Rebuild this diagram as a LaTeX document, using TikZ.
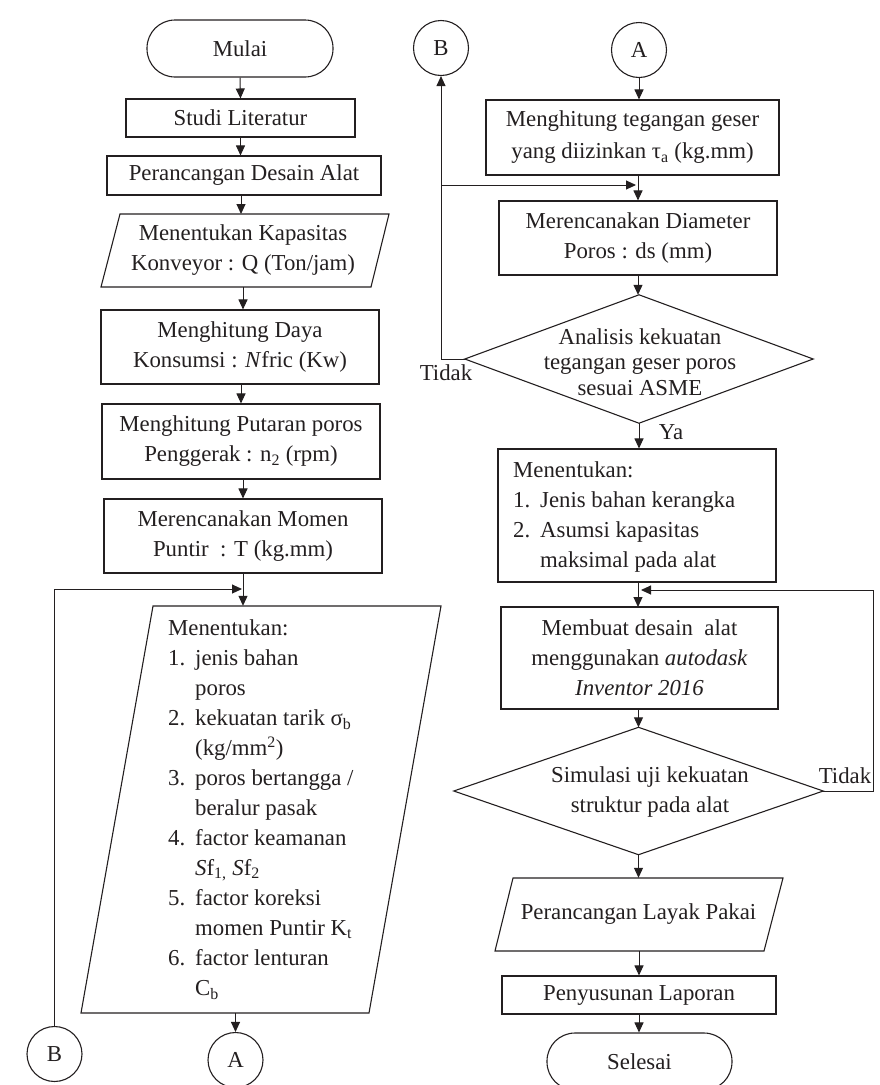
\documentclass[tikz,border=0pt]{standalone}
\usepackage{fontspec}
\setmainfont{Liberation Serif}
\usetikzlibrary{arrows.meta}
\definecolor{ink}{RGB}{35,31,32}
\begin{document}
\begin{tikzpicture}[x=1pt,y=-1pt,
  font=\fontsize{22.8}{30}\selectfont,
  box/.style={draw=ink, line width=1.1pt, inner sep=0pt, align=center, text=ink},
  term/.style={box, rounded corners=28pt},
  ghost/.style={inner sep=0pt, align=center, text=ink},
  conn/.style={circle, draw=ink, line width=1.1pt, inner sep=0pt, minimum size=55pt, text=ink},
  shp/.style={draw=ink, line width=1.1pt},
  arr/.style={draw=ink, line width=1pt, -{Triangle[length=10pt,width=9pt]}},
  lbl/.style={inner sep=0pt, text=ink, anchor=base}]
\useasboundingbox (0,0) rectangle (880,1085);

% ---------- left column ----------
\node[term, minimum width=186pt, minimum height=57pt] (mulai) at (240,48.5) {Mulai};
\node[box, minimum width=229pt, minimum height=38pt] (studi) at (240.5,118) {Studi Literatur};
\node[box, minimum width=274pt, minimum height=39pt] (desain) at (244,175.5) {Perancangan Desain Alat};
\draw[shp] (120,214) -- (389,214) -- (371,287) -- (101,287) -- cycle;
\node[ghost, minimum width=250pt, minimum height=73pt] (kap) at (243,250.5) {Menentukan Kapasitas\\Konveyor : Q (Ton/jam)};
\node[box, minimum width=278pt, minimum height=74pt] (daya) at (240,347) {Menghitung Daya\\Konsumsi : \textit{N}fric (Kw)};
\node[box, minimum width=278pt, minimum height=75pt] (putaran) at (241,441.5) {Menghitung Putaran poros\\Penggerak : n\textsubscript{2} (rpm)};
\node[box, minimum width=278pt, minimum height=74pt] (momen) at (243,536) {Merencanakan Momen\\Puntir\ \ : T (kg.mm)};
\draw[shp] (153,606) -- (441,606) -- (369,1013) -- (81,1013) -- cycle;
\node[ghost, minimum width=288pt, minimum height=407pt] (big) at (261,809.5) {};
\node[ghost, align=left, anchor=north west] (bigT) at (168,619.4) {Menentukan:\\
\makebox[27pt][l]{1.}jenis bahan\\
\hspace*{27pt}poros\\
\makebox[27pt][l]{2.}kekuatan tarik σ\textsubscript{b}\\
\hspace*{27pt}(kg/mm\textsuperscript{2})\\
\makebox[27pt][l]{3.}poros bertangga /\\
\hspace*{27pt}beralur pasak\\
\makebox[27pt][l]{4.}factor keamanan\\
\hspace*{27pt}\textit{S}f\textsubscript{1,} \textit{S}f\textsubscript{2}\\
\makebox[27pt][l]{5.}factor koreksi\\
\hspace*{27pt}momen Puntir K\textsubscript{t}\\
\makebox[27pt][l]{6.}factor lenturan\\
\hspace*{27pt}C\textsubscript{b}};
\node[conn] (B1) at (54.5,1054) {B};
\node[conn] (A1) at (235.5,1060) {A};
\coordinate (j1) at (242,589);

\draw[arr] (mulai.south) -- (studi.north);
\draw[arr] (studi.south) -- (studi.south |- desain.north);
\draw[arr] (241,195) -- (241,214);
\draw[arr] (kap.south) -- (kap.south |- daya.north);
\draw[arr] (daya.south -| putaran.north) -- (putaran.north);
\draw[arr] (momen.north |- putaran.south) -- (momen.north);
\draw[arr] (momen.south) -- (momen.south |- big.north);
\draw[arr] (B1.north) |- (j1);
\draw[arr] (A1.north |- big.south) -- (A1.north);

% ---------- right column ----------
\node[conn] (B2) at (441,48) {B};
\node[conn] (A2) at (639,50) {A};
\node[box, minimum width=293pt, minimum height=75pt, font=\fontsize{22.8}{32}\selectfont] (geser) at (632.5,137.5) {Menghitung tegangan geser\\yang diizinkan τ\textsubscript{a} (kg.mm)};
\node[box, minimum width=278pt, minimum height=74pt] (diam) at (638,238) {Merencanakan Diameter\\Poros : ds (mm)};
\node[ghost, minimum width=348pt, minimum height=128pt] (ana) at (639,359) {};
\draw[shp] (ana.north) -- (ana.east) -- (ana.south) -- (ana.west) -- cycle;
\node[ghost, font=\fontsize{22.8}{25.7}\selectfont] (anaT) at (640,362) {Analisis kekuatan\\tegangan geser poros\\sesuai ASME};
\node[lbl] (tidak1) at (446,380) {Tidak};
\node[lbl] (ya) at (671,439) {Ya};
\node[box, minimum width=278pt, minimum height=133pt] (men2) at (637,515.5) {};
\node[ghost, align=left, anchor=north west] (men2T) at (513,461.4) {Menentukan:\\
\makebox[27pt][l]{1.}Jenis bahan kerangka\\
\makebox[27pt][l]{2.}Asumsi kapasitas\\
\hspace*{27pt}maksimal pada alat};
\node[box, minimum width=277pt, minimum height=102pt] (membuat) at (639.5,658) {Membuat desain\ \ alat\\menggunakan \textit{autodask}\\\textit{Inventor 2016}};
\node[ghost, minimum width=369pt, minimum height=127pt] (sim) at (638.5,791) {};
\draw[shp] (sim.north) -- (sim.east) -- (sim.south) -- (sim.west) -- cycle;
\node[ghost] (simT) at (650,792) {Simulasi uji kekuatan\\struktur pada alat};
\node[lbl] (tidak2) at (845,783) {Tidak};
\draw[shp] (513,878) -- (783,878) -- (764,951) -- (495,951) -- cycle;
\node[ghost, minimum width=270pt, minimum height=73pt] (layak) at (638.5,914.5) {Perancangan Layak Pakai};
\node[box, minimum width=274pt, minimum height=38pt] (laporan) at (639,995) {Penyusunan Laporan};
\node[term, minimum width=185pt, minimum height=57pt] (selesai) at (639.5,1061.5) {Selesai};
\coordinate (j2) at (636,185);
\coordinate (j3) at (641,590);
\coordinate (rc) at (873,700);

\draw[arr] (A2.south) -- (A2.south |- geser.north);
\draw[arr] (geser.south -| diam.north) -- (diam.north);
\draw[arr] (diam.south) -- (diam.south |- ana.north);
\draw[arr] (ana.west) -| (B2.south);
\draw[arr] (B2.south |- j2) -- (j2);
\draw[arr] (ana.south) -- (ana.south |- men2.north);
\draw[arr] (men2.south -| 638,0) -- (638,607);
\draw[arr] (sim.east) -- (sim.east -| rc) -- (rc |- j3) -- (j3);
\draw[arr] (membuat.south -| sim.north) -- (sim.north);
\draw[arr] (sim.south) -- (sim.south |- layak.north);
\draw[arr] (layak.south -| laporan.north) -- (laporan.north);
\draw[arr] (laporan.south) -- (laporan.south |- selesai.north);
\end{tikzpicture}
\end{document}
